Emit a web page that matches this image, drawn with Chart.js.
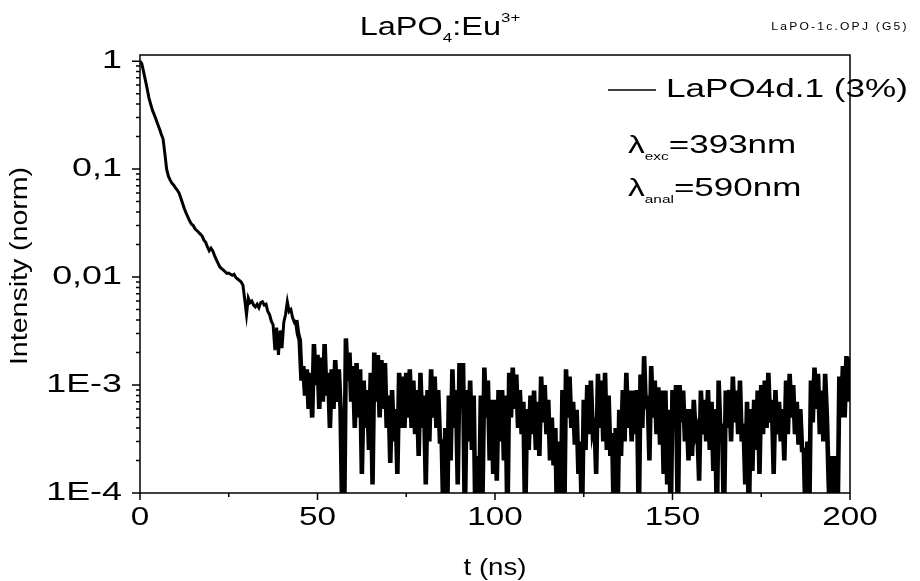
<!DOCTYPE html>
<html>
<head>
<meta charset="utf-8">
<script src="https://cdn.jsdelivr.net/npm/chart.js@4.4.1/dist/chart.umd.min.js"></script>
<style>
  html, body { margin: 0; padding: 0; background: #fff; }
  #chart { display: block; }
</style>
</head>
<body>
<canvas id="chart" width="920" height="581"></canvas>
<script>
// ---------- Data ----------
const T_STEP = 0.5; // ns between samples, first sample at t = 0

// 0 .. 39.5 ns
const DECAY_0_40 = [
  1.0, 0.95, 0.80, 0.67, 0.56, 0.46, 0.40, 0.35, 0.32, 0.29, 0.26, 0.235, 0.21, 0.19, 0.14, 0.10, 0.086, 0.079, 0.074, 0.071,
  0.067, 0.064, 0.060, 0.054, 0.048, 0.043, 0.039, 0.036, 0.033, 0.031, 0.030, 0.028, 0.027, 0.026, 0.025, 0.024, 0.022, 0.021, 0.019, 0.0175,
  0.0185, 0.0175, 0.0158, 0.0145, 0.0134, 0.0124, 0.012, 0.0116, 0.0112, 0.0108, 0.0109, 0.0106, 0.0104, 0.0106, 0.0099, 0.0096, 0.0093, 0.009, 0.0084, 0.0062,
  0.0045, 0.0064, 0.0058, 0.006, 0.0055, 0.0053, 0.0056, 0.0052, 0.0058, 0.0059, 0.0055, 0.0056, 0.0048, 0.0045, 0.0039, 0.0036, 0.0021, 0.0034, 0.0019, 0.0032,
];

// 40 .. 119.5 ns
const TAIL_40_120 = [
  0.0022, 0.0038, 0.0045, 0.0059, 0.0048, 0.005, 0.0042, 0.0038, 0.004, 0.003,
  2.6e-3, 1.1e-3, 1.5e-3, 8e-4, 1.4e-3, 6e-4, 1.3e-3, 5e-4, 2.4e-3, 1.0e-3, 1.9e-3, 6e-4, 1.8e-3, 7e-4, 2.4e-3, 8e-4, 1.3e-3, 4e-4, 1.4e-3, 6e-4,
  1.7e-3, 7e-4, 1.4e-3, 6e-4, 5e-5, 5e-5, 2.7e-3, 1.1e-3, 2.0e-3, 7e-4, 1.5e-3, 4e-4, 1.6e-3, 5e-4, 1.4e-3, 1.5e-4, 1.1e-3, 4e-4, 9e-4, 2.5e-4,
  1.3e-3, 1.2e-4, 2.0e-3, 7e-4, 1.9e-3, 5e-4, 1.7e-3, 6e-4, 1.6e-3, 4e-4, 8e-4, 1.9e-4, 9e-4, 3e-4, 6e-4, 1.5e-4, 1.3e-3, 4e-4, 1.2e-3, 4e-4,
  1.3e-3, 5e-4, 1.4e-3, 4e-4, 1.1e-3, 3.5e-4, 9e-4, 2.2e-4, 1.3e-3, 4e-4, 8e-4, 1.2e-4, 9e-4, 3e-4, 1.4e-3, 5e-4, 1.2e-3, 4e-4, 9e-4, 3e-4,
  3e-4, 5e-5, 4e-4, 5e-5, 8e-4, 2e-4, 1.4e-3, 4e-4, 9e-4, 1.2e-4, 1.6e-3, 6e-4, 1.6e-3, 5e-5, 9e-4, 3e-4, 1.1e-3, 2.5e-4, 8e-4, 5e-5,
  2.2e-4, 5e-5, 8e-4, 1.0e-4, 1.45e-3, 5e-4, 1.1e-3, 2e-4, 7.3e-4, 1.5e-4, 7.3e-4, 1.3e-4, 9e-4, 3e-4, 9e-4, 2e-4, 8e-4, 5e-5, 1.3e-3, 5e-4,
  1.45e-3, 6e-4, 1.25e-3, 4e-4, 9e-4, 3.5e-4, 7e-4, 5e-5, 6e-4, 2.5e-4, 8e-4, 3.5e-4, 8.9e-4, 2.5e-4, 7e-4, 2.2e-4, 1.2e-3, 4.5e-4, 1.0e-3, 3.5e-4,
  7.3e-4, 2e-4, 5e-4, 1.8e-4, 4e-4, 5e-5, 3e-4, 5e-5, 9e-4, 5e-5,
];

// 120 .. 200 ns
const TAIL_120_200 = [
  1.4e-3, 5e-4, 1.2e-3, 4e-4, 7e-4, 2.8e-4, 5.9e-4, 1.5e-4, 3e-4, 5e-5, 7.3e-4, 2.5e-4, 1.0e-3, 3.5e-4, 1.1e-3, 4e-4, 5e-4, 1.5e-4, 1.27e-3, 4e-4,
  1.1e-3, 3e-4, 1.3e-3, 2.5e-4, 8e-4, 2.2e-4, 3.6e-4, 5e-5, 4e-4, 5e-5, 5.9e-4, 2.2e-4, 9e-4, 3e-4, 1.3e-3, 4e-4, 8.9e-4, 3e-4, 8.9e-4, 3.5e-4,
  9e-4, 5e-5, 1.25e-3, 4e-4, 1.85e-3, 6e-4, 8e-4, 2e-4, 1.5e-3, 5e-4, 1.1e-3, 3.5e-4, 9.5e-4, 2.8e-4, 8.9e-4, 1.5e-4, 8.9e-4, 1.2e-4, 5.9e-4, 5e-5,
  9e-4, 4e-4, 1.0e-3, 5e-5, 1.0e-3, 4.5e-4, 8.9e-4, 3e-4, 6e-4, 2e-4, 6e-4, 2.2e-4, 7.3e-4, 3.5e-4, 4e-4, 1.3e-4, 8.9e-4, 3.5e-4, 7.3e-4, 3e-4,
  9e-4, 2.5e-4, 7e-4, 1.6e-4, 6e-4, 5e-5, 1.1e-3, 3.5e-4, 4.4e-4, 5e-5, 8.9e-4, 4e-4, 9e-4, 3e-4, 1.2e-3, 4.5e-4, 8.9e-4, 3.5e-4, 1.1e-3, 3e-4,
  4.4e-4, 1.2e-4, 7e-4, 5e-5, 6e-4, 1.6e-4, 7.3e-4, 2.5e-4, 8.9e-4, 1.5e-4, 1.0e-3, 3.5e-4, 1.1e-3, 4e-4, 1.3e-3, 4.5e-4, 7.3e-4, 1.5e-4, 9e-4, 3.5e-4,
  7e-4, 3e-4, 6e-4, 2e-4, 1.1e-3, 3.5e-4, 1.27e-3, 5e-4, 1.0e-3, 3.5e-4, 7e-4, 2.8e-4, 6e-4, 2.5e-4, 2.5e-4, 5e-5, 3e-4, 5e-5, 1.1e-3, 4.5e-4,
  1.45e-3, 6e-4, 1.27e-3, 3.5e-4, 8.9e-4, 3e-4, 1.27e-3, 5e-4, 1.2e-4, 5e-5, 2.2e-4, 5e-5, 2.2e-4, 5e-5, 1.2e-3, 5e-4, 1.5e-3, 5e-4, 1.85e-3, 7e-4,
  1.8e-3,
];

const SERIES_LABEL = 'LaPO4d.1 (3%)';

const X_TICKS = [0, 50, 100, 150, 200];
const X_TICK_LABELS = ['0', '50', '100', '150', '200'];
const X_MINOR = [25, 75, 125, 175];
const Y_TICKS = [1, 0.1, 0.01, 1e-3, 1e-4];
const Y_TICK_LABELS = ['1', '0,1', '0,01', '1E-3', '1E-4'];
const Y_MIN = 1e-4, Y_MAX = 1.14;
const X_MIN = 0, X_MAX = 200;
const NOISY_FROM = 44; // ns, where the trace turns into the dense noise band

// ---------- Build points ----------
const intensity = [...DECAY_0_40, ...TAIL_40_120, ...TAIL_120_200];
const points = intensity.map((v, i) => ({ x: i * T_STEP, y: v }));

// ---------- Text helpers (Origin export text is drawn wide) ----------
const FONT = '"Liberation Sans", Arial, Helvetica, sans-serif';

function drawRuns(ctx, runs, x, y, align, sx, spacing) {
  ctx.save();
  ctx.textBaseline = 'middle';
  ctx.textAlign = 'left';
  let total = 0;
  runs.forEach(r => {
    ctx.font = r.size + 'px ' + FONT;
    ctx.letterSpacing = (spacing || 0) + 'px';
    r.w = ctx.measureText(r.t).width;
    total += r.w;
  });
  const start = align === 'center' ? -total / 2 : align === 'right' ? -total : 0;
  ctx.translate(x, y);
  ctx.scale(sx, 1);
  let cx = start;
  runs.forEach(r => {
    ctx.font = r.size + 'px ' + FONT;
    ctx.letterSpacing = (spacing || 0) + 'px';
    ctx.fillText(r.t, cx, r.dy || 0);
    cx += r.w;
  });
  ctx.restore();
}

function text(ctx, str, x, y, size, align, sx, spacing) {
  drawRuns(ctx, [{ t: str, size: size }], x, y, align, sx, spacing);
}

// ---------- Frame, ticks and labels ----------
const decor = {
  id: 'decor',
  afterDraw(chart) {
    const ctx = chart.ctx;
    const a = chart.chartArea;
    const xs = chart.scales.x, ys = chart.scales.y;
    ctx.save();
    ctx.fillStyle = '#000';
    ctx.strokeStyle = '#000';
    ctx.lineWidth = 1.5;
    ctx.strokeRect(a.left, a.top, a.right - a.left, a.bottom - a.top);

    ctx.beginPath();
    X_TICKS.forEach(v => { const px = xs.getPixelForValue(v); ctx.moveTo(px, a.bottom); ctx.lineTo(px, a.bottom + 7); });
    X_MINOR.forEach(v => { const px = xs.getPixelForValue(v); ctx.moveTo(px, a.bottom); ctx.lineTo(px, a.bottom + 4); });
    Y_TICKS.forEach(v => { const py = ys.getPixelForValue(v); ctx.moveTo(a.left, py); ctx.lineTo(a.left - 8, py); });
    for (let e = -4; e < 0; e++) {
      for (let m = 2; m <= 9; m++) {
        const py = ys.getPixelForValue(m * Math.pow(10, e));
        ctx.moveTo(a.left, py); ctx.lineTo(a.left - 4, py);
      }
    }
    ctx.stroke();

    // tick labels
    X_TICKS.forEach((v, i) => text(ctx, X_TICK_LABELS[i], xs.getPixelForValue(v), a.bottom + 25, 26, 'center', 1.28));
    Y_TICKS.forEach((v, i) => text(ctx, Y_TICK_LABELS[i], a.left - 18, ys.getPixelForValue(v), 26, 'right', 1.38));

    // axis titles
    text(ctx, 't (ns)', (a.left + a.right) / 2, 568, 24, 'center', 1.15);
    ctx.save();
    ctx.translate(21, (a.top + a.bottom) / 2 - 8);
    ctx.rotate(-Math.PI / 2);
    text(ctx, 'Intensity (norm)', 0, 0, 23, 'center', 1.24);
    ctx.restore();

    // title and file tag
    drawRuns(ctx, [
      { t: 'LaPO', size: 25 },
      { t: '4', size: 13, dy: 10 },
      { t: ':Eu', size: 25 },
      { t: '3+', size: 13, dy: -10 },
    ], 440, 28, 'center', 1.3);
    text(ctx, 'LaPO-1c.OPJ (G5)', 840, 27, 11, 'center', 1.1, 2);

    // legend
    ctx.lineWidth = 1.5;
    ctx.beginPath();
    ctx.moveTo(608, 90); ctx.lineTo(656, 90);
    ctx.stroke();
    text(ctx, SERIES_LABEL, 666, 90, 26, 'left', 1.35);

    // excitation / analysis wavelengths
    drawRuns(ctx, [
      { t: 'λ', size: 24 },
      { t: 'exc', size: 11, dy: 11 },
      { t: '=393nm', size: 25 },
    ], 628, 146, 'left', 1.4);
    drawRuns(ctx, [
      { t: 'λ', size: 24 },
      { t: 'anal', size: 11, dy: 11 },
      { t: '=590nm', size: 25 },
    ], 628, 189, 'left', 1.4);
    ctx.restore();
  }
};

new Chart(document.getElementById('chart'), {
  type: 'line',
  data: {
    datasets: [{
      label: SERIES_LABEL,
      data: points,
      borderColor: '#000',
      borderWidth: 3,
      pointRadius: 0,
      tension: 0,
      fill: false,
      segment: {
        borderWidth: c => (c.p0.parsed.x >= NOISY_FROM ? 4.6 : 3),
      },
    }]
  },
  options: {
    responsive: false,
    animation: false,
    devicePixelRatio: 1,
    layout: { padding: { top: 55, right: 70, left: 0, bottom: 0 } },
    plugins: { legend: { display: false }, title: { display: false }, tooltip: { enabled: false } },
    scales: {
      x: {
        type: 'linear', min: X_MIN, max: X_MAX,
        grid: { display: false }, border: { display: false },
        ticks: { display: false },
        afterFit: s => { s.height = 88; },
      },
      y: {
        type: 'logarithmic', min: Y_MIN, max: Y_MAX,
        grid: { display: false }, border: { display: false },
        ticks: { display: false },
        afterFit: s => { s.width = 140; },
      }
    }
  },
  plugins: [decor]
});
</script>
</body>
</html>
